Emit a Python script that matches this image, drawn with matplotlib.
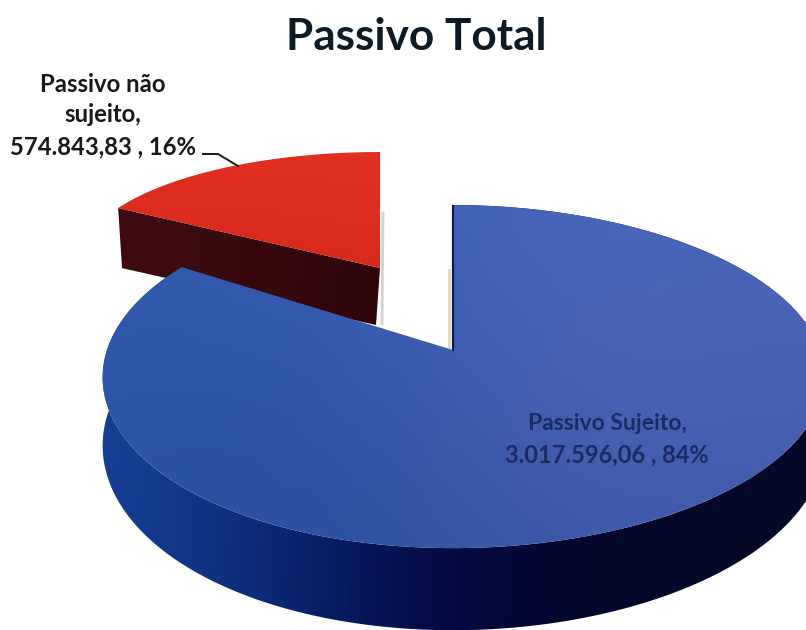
import numpy as np
import matplotlib
matplotlib.use("Agg")
import matplotlib.pyplot as plt
from matplotlib.patches import Polygon

# Chart data
title = "Passivo Total"
categories = ["Passivo Sujeito", "Passivo não sujeito"]
amounts = [3017596.06, 574843.83]

plt.rcParams["font.family"] = ["Lato", "DejaVu Sans"]

W, H = 806, 630
fig = plt.figure(figsize=(W / 100, H / 100), dpi=100, facecolor="white")
ax = fig.add_axes([0, 0, 1, 1])
ax.set_xlim(0, W)
ax.set_ylim(H, 0)
ax.axis("off")

shares = np.array(amounts) / np.sum(amounts)
sweep = shares * 360.0


def fmt_amount(v):
    return f"{v:,.2f}".replace(",", "#").replace(".", ",").replace("#", ".")


def project(theta_deg, cx, cy, ax_left, ax_right, b, k):
    """Perspective view of the pie's circular rim; theta runs clockwise from 12 o'clock."""
    t = np.radians(theta_deg)
    u, v = np.sin(t), np.cos(t)
    w = 1 + k * v
    a = (ax_left + ax_right) / 2 + (ax_right - ax_left) / 2 * u
    return cx + a * u / w, cy - b * v / w


def shaded(poly_xy, rgb_grid, zorder):
    """Fill a polygon with a smooth colour field given as a coarse RGB grid."""
    patch = Polygon(poly_xy, closed=True, fc="none", ec="none", zorder=zorder)
    ax.add_patch(patch)
    im = ax.imshow(np.array(rgb_grid) / 255.0, extent=(0, W, H, 0), origin="upper",
                   interpolation="bicubic", aspect="auto", zorder=zorder)
    im.set_clip_path(patch)
    ax.set_xlim(0, W)
    ax.set_ylim(H, 0)
    return im


# Blue slice geometry
B_CX, B_CY = 453, 350
B = dict(cx=B_CX, cy=B_CY, ax_left=346, ax_right=367, b=167.4, k=0.155)
B_LOW = dict(cx=B_CX, cy=B_CY + 66, ax_left=346, ax_right=367, b=181, k=0.155)
th_blue = np.linspace(0, sweep[0], 400)

# Red slice geometry: detached towards the upper left
R_CX, R_CY = 380, 268
R = dict(cx=R_CX, cy=R_CY, ax_left=298, ax_right=298, b=107.5, k=-0.073)
R_LOW = dict(cx=R_CX - 4, cy=R_CY + 57, ax_left=289, ax_right=289, b=102, k=-0.073)
th_red = np.linspace(sweep[0], 360, 120)

# Red slice: cut face below the top, then the top
rx, ry = project(th_red, **R)
lx, ly = project(th_red, **R_LOW)
face = [(rx[0], ry[0]), (R_CX, R_CY), (R_LOW["cx"], R_LOW["cy"]), (lx[0], ly[0])]
shaded(face, [[(66, 14, 18), (44, 4, 8), (36, 0, 4)],
              [(62, 12, 16), (40, 2, 6), (36, 0, 4)]], 2)
top_red = np.column_stack([np.r_[R_CX, rx], np.r_[R_CY, ry]])
shaded(top_red,
       [[(226, 48, 34)] * 5,
        [(224, 48, 34), (226, 46, 34), (226, 50, 36), (228, 50, 36), (224, 44, 30)],
        [(214, 40, 26), (206, 34, 24), (214, 38, 26), (208, 36, 24), (205, 32, 22)],
        [(190, 28, 20), (190, 28, 20), (196, 30, 20), (196, 30, 20), (190, 28, 18)],
        [(190, 28, 20)] * 5], 3)
# Soft shadow at the red slice's right edge
ax.plot([383, 382], [213, 324], color="#b8b2ae", lw=2, alpha=0.6, zorder=1)

# Blue slice: outer wall, then the top
tx, ty = project(th_blue, **B)
bx, by = project(th_blue, **B_LOW)
wall = np.column_stack([np.r_[tx, bx[::-1]], np.r_[ty, by[::-1]]])
wall_cols = [[(28, 74, 160), (24, 66, 150), (16, 52, 134), (6, 22, 96), (4, 10, 58), (6, 8, 44), (8, 8, 44)],
             [(26, 72, 156), (22, 62, 146), (12, 44, 124), (4, 16, 86), (4, 10, 56), (6, 8, 44), (8, 8, 44)],
             [(22, 64, 150), (18, 56, 138), (10, 38, 114), (4, 12, 76), (4, 8, 50), (6, 8, 40), (6, 8, 40)]]
shaded(wall, wall_cols, 4)
top_blue = np.column_stack([np.r_[B_CX, tx], np.r_[B_CY, ty]])
shaded(top_blue,
       [[(66, 100, 184)] * 6,
        [(50, 92, 174), (52, 92, 176), (60, 96, 180), (66, 100, 186), (72, 104, 188), (70, 102, 184)],
        [(48, 88, 172), (48, 88, 170), (52, 90, 172), (62, 96, 180), (74, 102, 184), (72, 100, 182)],
        [(46, 84, 166), (44, 82, 164), (48, 84, 166), (60, 90, 172), (72, 96, 178), (70, 96, 178)],
        [(44, 82, 164), (44, 80, 162), (44, 80, 160), (52, 84, 162), (60, 88, 168), (60, 88, 168)]], 5)

# Cut edge of the blue slice at 12 o'clock, with its tan reflection
ax.plot([453, 453], [206, 350], color="#0c1c50", lw=1.6, zorder=6)
ax.plot([448.5, 448.5], [270, 347], color="#d9cdb8", lw=2, alpha=0.8, zorder=1)

# Leader line for the detached slice
ax.plot([203, 218, 238], [154, 154, 166], color="#1a1a1a", lw=1.4, zorder=7)

ax.text(416, 37, title, ha="center", va="center", fontsize=31.8, fontweight="bold",
        color="#0e1a24", zorder=8)

pct = np.round(shares * 100).astype(int)
ax.text(103, 84, "Passivo não", ha="center", va="center", fontsize=17.2,
        fontweight="bold", color="#161a1c", zorder=8)
ax.text(103, 115, "sujeito,", ha="center", va="center", fontsize=17.2,
        fontweight="bold", color="#161a1c", zorder=8)
ax.text(103, 147, f"{fmt_amount(amounts[1])} , {pct[1]}%", ha="center", va="center",
        fontsize=17.2, fontweight="bold", color="#161a1c", zorder=8)

ax.text(607, 424, f"{categories[0]},", ha="center", va="center", fontsize=16.5,
        fontweight="bold", color="#1b2a64", zorder=8)
ax.text(607, 455, f"{fmt_amount(amounts[0])} , {pct[0]}%", ha="center", va="center",
        fontsize=17, fontweight="bold", color="#1b2a64", zorder=8)

fig.savefig("out.png", dpi=100, facecolor="white")
